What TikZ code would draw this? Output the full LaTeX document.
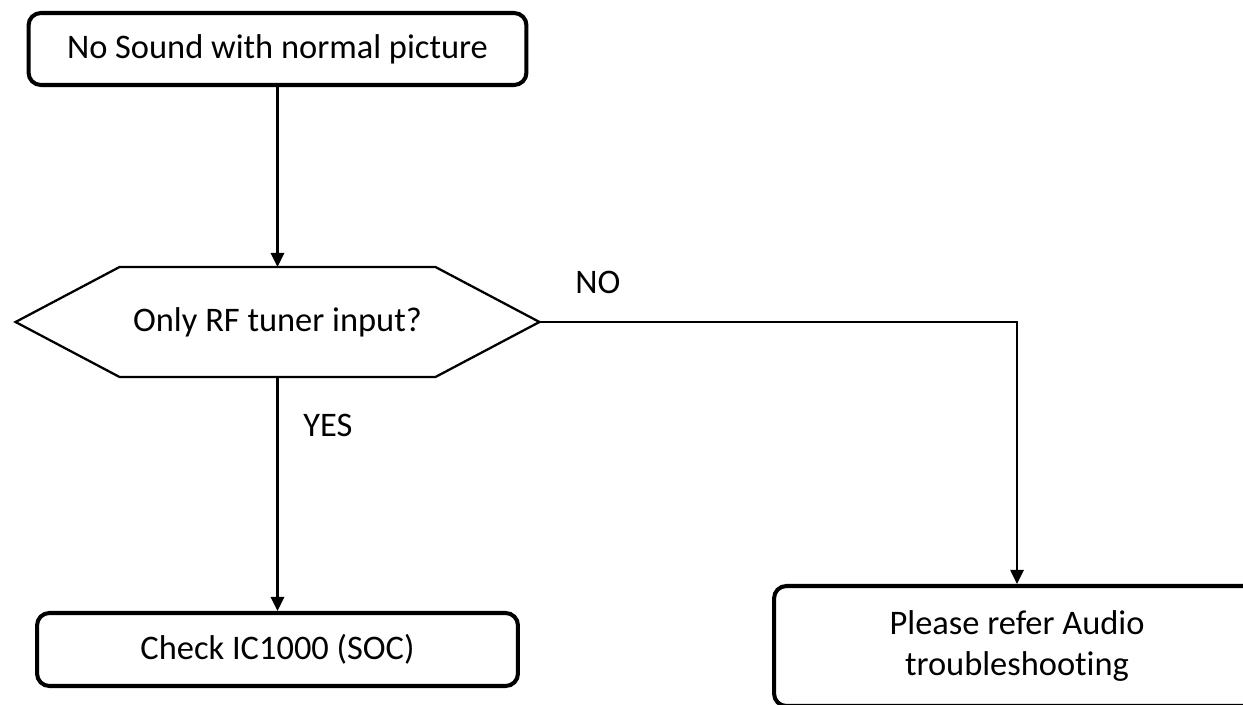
\documentclass[tikz,border=0pt]{standalone}
\usepackage{fontspec}
\setmainfont{Carlito}[Ligatures=NoCommon]
\usetikzlibrary{arrows.meta,positioning}

\begin{document}
\begin{tikzpicture}[
    x=0.02cm, y=-0.02cm,
    stepbox/.style={rectangle, draw, line width=2.3pt, rounded corners=7pt, align=center, inner sep=0pt},
    query/.style={rectangle, minimum width=10.48cm, minimum height=2.2cm, inner sep=0pt, outer sep=0pt},
    arr/.style={-{Triangle[length=8pt,width=7.5pt]}, line width=1.3pt},
    font=\fontsize{19.6pt}{22.8pt}\selectfont
]
    \useasboundingbox (0,0) rectangle (1243,705);
    \node[stepbox, minimum width=9.96cm, minimum height=1.44cm] (start) at (277.5,49) {No Sound with normal picture};
    \node[query] (rf) at (277.5,322) {Only RF tuner input?};
    % hexagon round the question
    \draw[line width=1.3pt] (rf.west) -- ([xshift=2.08cm]rf.north west) -- ([xshift=-2.08cm]rf.north east)
        -- (rf.east) -- ([xshift=-2.08cm]rf.south east) -- ([xshift=2.08cm]rf.south west) -- cycle;
    \node[stepbox, minimum width=9.62cm, minimum height=1.46cm] (soc) at (277.5,649.5) {Check IC1000 (SOC)};
    \node[stepbox, minimum width=9.72cm, minimum height=2.4cm] (audio) at (1017,646) {Please refer Audio\\troubleshooting};
    \node (no) at (598,282) {NO};
    \node (yes) at (328,425) {YES};
    \draw[arr] (start) -- (rf);
    \draw[arr] (rf) -- (soc);
    \draw[arr] (rf.east) -| (audio.north);
\end{tikzpicture}
\end{document}
